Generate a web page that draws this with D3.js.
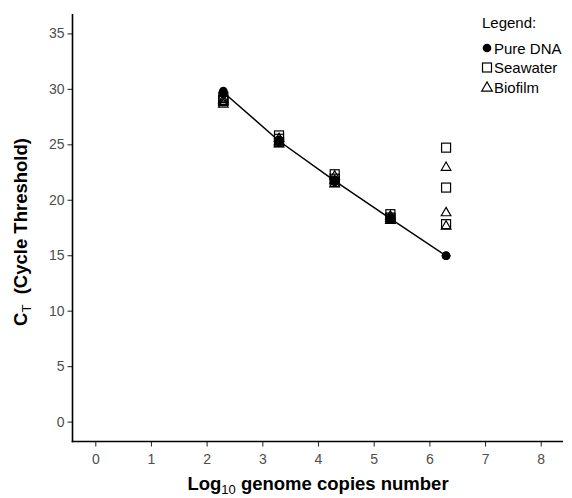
<!DOCTYPE html>
<html>
<head>
<meta charset="utf-8">
<script src="https://cdn.jsdelivr.net/npm/d3@7"></script>
<style>
body{margin:0;background:#fff;}
svg{display:block;font-family:"Liberation Sans",Arial,sans-serif;}
</style>
</head>
<body>
<svg id="chart" width="572" height="498"></svg>
<script>
const xTicks = [0,1,2,3,4,5,6,7,8];
const yTicks = [0,5,10,15,20,25,30,35];
const logCopies = [2.3,3.3,4.3,5.3,6.3];
const pureDNA = [[29.8,29.7,29.6],[25.4,25.3,25.2],[21.8,21.7,21.6],[18.4,18.3,18.2],[14.95,14.95,14.95]];
const seawater = [[29.3,29.0,28.9],[25.8,25.5,25.2],[22.3,21.9,21.6],[18.7,18.4,18.3],[24.7,21.1,17.8]];
const biofilm = [[29.1,28.9,28.7],[25.6,25.3,25.1],[22.2,21.8,21.5],[18.6,18.4,18.2],[23.0,18.9,17.7]];
const pureMeans = [29.7,25.3,21.7,18.3,14.95];
const legendLabels = ["Pure DNA","Seawater","Biofilm"];

const svg = d3.select("#chart");
const x = d3.scaleLinear().domain([-0.4,8.4]).range([73,563]);
const y = d3.scaleLinear().domain([-1.75,36.75]).range([441,14]);

// axes
const gx = svg.append("g").attr("transform","translate(0,441.5)")
  .call(d3.axisBottom(x).tickValues(xTicks).tickSize(5).tickPadding(8).tickFormat(d3.format("d")));
const gy = svg.append("g").attr("transform","translate(72.5,0)")
  .call(d3.axisLeft(y).tickValues(yTicks).tickSize(5).tickPadding(3).tickFormat(d3.format("d")));
[gx,gy].forEach(g=>{
  g.select(".domain").remove();
  g.selectAll(".tick line").attr("stroke","#333").attr("stroke-width",1.1);
  g.selectAll(".tick text").attr("fill","#4d4d4d").style("font-size","14px").style("font-family","Liberation Sans, Arial, sans-serif");
});
svg.append("line").attr("x1",72.5).attr("x2",72.5).attr("y1",14).attr("y2",442.3).attr("stroke","#000").attr("stroke-width",1.6);
svg.append("line").attr("x1",71.7).attr("x2",563).attr("y1",441.5).attr("y2",441.5).attr("stroke","#000").attr("stroke-width",1.6);

// line through pure DNA means
const line = d3.line().x((d,i)=>x(logCopies[i])).y(d=>y(d));
svg.append("path").datum(pureMeans).attr("d",line).attr("fill","none").attr("stroke","#000").attr("stroke-width",1.5);

function flatten(arr){const out=[];arr.forEach((reps,i)=>reps.forEach(v=>out.push([logCopies[i],v])));return out;}

const sq = 9, tri = d3.symbol().type(d3.symbolTriangle).size(40);
svg.append("g").selectAll("rect").data(flatten(seawater)).join("rect")
  .attr("x",d=>x(d[0])-sq/2).attr("y",d=>y(d[1])-sq/2).attr("width",sq).attr("height",sq)
  .attr("fill","none").attr("stroke","#000").attr("stroke-width",1.2);
svg.append("g").selectAll("path").data(flatten(biofilm)).join("path")
  .attr("d",tri).attr("transform",d=>`translate(${x(d[0])},${y(d[1])+1})`)
  .attr("fill","none").attr("stroke","#000").attr("stroke-width",1.2);
svg.append("g").selectAll("circle").data(flatten(pureDNA)).join("circle")
  .attr("cx",d=>x(d[0])).attr("cy",d=>y(d[1])).attr("r",4.3).attr("fill","#000");

// legend
const lg = svg.append("g");
lg.append("text").attr("x",482).attr("y",28).text("Legend:").style("font-size","15px").attr("fill","#000");
const ly = [48,67.5,87];
legendLabels.forEach((lab,i)=>{
  lg.append("text").attr("x",494).attr("y",ly[i]+5.5).text(lab).style("font-size","15px").attr("fill","#000");
});
lg.append("circle").attr("cx",487).attr("cy",ly[0]).attr("r",4.3).attr("fill","#000");
lg.append("rect").attr("x",482.5).attr("y",ly[1]-4.5).attr("width",9).attr("height",9).attr("fill","none").attr("stroke","#000").attr("stroke-width",1.2);
lg.append("path").attr("d",d3.symbol().type(d3.symbolTriangle).size(48)).attr("transform",`translate(487,${ly[2]+1})`).attr("fill","none").attr("stroke","#000").attr("stroke-width",1.2);

// axis titles
const xt = svg.append("text").attr("x",318).attr("y",490).attr("text-anchor","middle")
  .style("font-size","18.5px").style("font-weight","bold").attr("fill","#000");
xt.append("tspan").text("Log");
xt.append("tspan").text("10").attr("dy",4).style("font-size","13px").style("font-weight","normal");
xt.append("tspan").text(" genome copies number").attr("dy",-4);

const yt = svg.append("text").attr("transform","translate(27,232) rotate(-90)").attr("text-anchor","middle")
  .style("font-size","18.5px").style("font-weight","bold").attr("fill","#000").style("white-space","pre");
yt.append("tspan").text("C");
yt.append("tspan").text("T").attr("dy",4).style("font-size","13px").style("font-weight","normal");
yt.append("tspan").text("  (Cycle Threshold)").attr("dy",-4);
</script>
</body>
</html>
